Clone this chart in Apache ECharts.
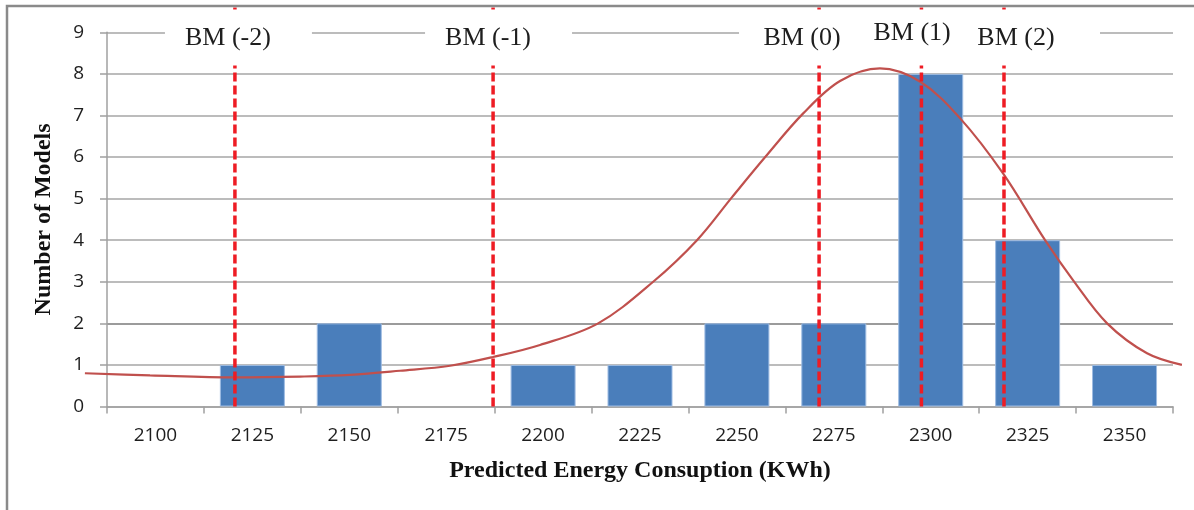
<!DOCTYPE html>
<html>
<head>
<meta charset="utf-8">
<script src="https://cdn.jsdelivr.net/npm/echarts@6/dist/echarts.min.js"></script>
<style>
html,body{margin:0;padding:0;background:#fff;}
#chart{width:1194px;height:510px;}
</style>
</head>
<body>
<div id="chart"></div>
<script>
// ---- data ----
const categories = ['2100','2125','2150','2175','2200','2225','2250','2275','2300','2325','2350'];
const counts     = [0, 1, 2, 0, 1, 1, 2, 2, 8, 4, 1];
const yTicks     = [0,1,2,3,4,5,6,7,8,9];

// fitted curve (x in kWh, y in number of models)
const curveX = [2081.8,2098.6,2120.5,2137.3,2150.2,2163.1,2176.0,2187.1,2199.2,2214.2,2228.4,2239.7,2248.7,2257.3,2267.1,2276.6,2286.9,2297.3,2307.6,2318.7,2329.5,2336.7,2345.5,2355.8,2364.8];
const curveY = [0.80,0.75,0.70,0.72,0.76,0.86,0.98,1.19,1.48,2.00,3.00,4.00,5.03,6.00,7.05,7.83,8.13,7.81,6.93,5.60,4.00,3.04,2.00,1.28,1.00];

// benchmark model markers
const bmNames  = ['BM (-2)','BM (-1)','BM (0)','BM (1)','BM (2)'];
const bmValues = [2120.5, 2187.1, 2271.2, 2297.6, 2318.9];
const bmLabelX = [2118.7, 2185.8, 2266.8, 2295.2, 2322.0];
const bmLabelY = [8.87, 8.87, 8.87, 8.98, 8.87];

// ---- layout ----
const W = 1194, GL = 107, GR = 21, GT = 32.3, GB = 103.5;
const catW = (W - GL - GR) / categories.length;        // px per category
const xStart = Number(categories[0]) - 12.5;           // value at the left edge of the category axis
const perPx = 25 / catW;
// wider overlay grid (so the curve can run past the plot edges like the original)
const OL = 80, OR = 8;
const ovMin = xStart - (GL - OL) * perPx;
const ovMax = xStart + (W - OR - GL) * perPx;

const chart = echarts.init(document.getElementById('chart'), null, {renderer:'canvas'});

const gridColors = yTicks.map(v => v === 2 ? '#7a7a7a' : '#a6a6a6');

const series = [
  {
    type:'bar', xAxisIndex:0, yAxisIndex:0, data:counts.map(v => v === 0 ? '-' : v), barWidth:65, z:2,
    itemStyle:{color:'#4a7ebb', borderColor:'#9dbbe2', borderWidth:1}
  },
  {
    type:'line', xAxisIndex:1, yAxisIndex:1, z:3, clip:false, smooth:0.35,
    showSymbol:false, symbol:'none', silent:true,
    data: curveX.map((x,i)=>[x, curveY[i]]),
    lineStyle:{color:'#c0504d', width:2.2}
  }
];
bmValues.forEach(v => {
  series.push({
    type:'line', xAxisIndex:1, yAxisIndex:1, z:4, clip:false,
    showSymbol:false, symbol:'none', silent:true,
    data:[[v,0],[v,9.62]],
    lineStyle:{color:'#ee1c24', width:3.5, type:[9,4]}
  });
});
series.push({
  type:'custom', xAxisIndex:1, yAxisIndex:1, z:6, silent:true, clip:false,
  data: bmLabelX.map((x,i)=>[x, bmLabelY[i]]),
  renderItem: function(params, api){
    const p = api.coord([api.value(0), api.value(1)]);
    const top = api.coord([api.value(0), 9.55])[1];
    const bottom = api.coord([api.value(0), 8.2])[1];
    return {
      type:'group',
      children:[
        {type:'rect', z2:0, shape:{x:p[0]-63, y:top, width:147, height:bottom-top}, style:{fill:'#ffffff'}},
        {type:'text', z2:10, x:p[0], y:p[1], style:{text:bmNames[params.dataIndex], fontFamily:'Liberation Serif', fontSize:26, fill:'#1e1e1e', align:'center', verticalAlign:'middle'}}
      ]
    };
  }
});

const option = {
  animation:false,
  backgroundColor:'#ffffff',
  grid:[
    {left:GL, right:GR, top:GT, bottom:GB, containLabel:false},
    {left:OL, right:OR, top:GT, bottom:GB, containLabel:false}
  ],
  graphic:[{type:'rect', silent:true, z:100, shape:{x:7, y:6, width:1300, height:700}, style:{fill:'none', stroke:'#8a8a8a', lineWidth:2.5}}],
  xAxis:[
    {
      type:'category', gridIndex:0, data:categories, boundaryGap:true,
      axisLine:{lineStyle:{color:'#a0a0a0', width:1.5}},
      axisTick:{show:true, length:7, lineStyle:{color:'#a0a0a0', width:1.5}},
      axisLabel:{fontFamily:'Open Sans', fontSize:19, color:'#1e1e1e', margin:20},
      splitLine:{show:false},
      name:'Predicted Energy Consuption (KWh)', nameLocation:'middle', nameGap:52,
      nameTextStyle:{fontFamily:'Liberation Serif', fontWeight:'bold', fontSize:24, color:'#111'}
    },
    {type:'value', gridIndex:1, min:ovMin, max:ovMax, show:false}
  ],
  yAxis:[
    {
      type:'value', gridIndex:0, min:0, max:9, interval:1,
      axisLine:{show:true, lineStyle:{color:'#a0a0a0', width:1.5}},
      axisTick:{show:true, length:7, lineStyle:{color:'#a0a0a0', width:1.5}},
      axisLabel:{fontFamily:'Open Sans', fontSize:19, color:'#1e1e1e', margin:23, formatter: v => String(v)},
      splitLine:{show:true, lineStyle:{color:gridColors, width:1.6}},
      name:'Number of Models', nameLocation:'middle', nameGap:51, nameRotate:90,
      nameTextStyle:{fontFamily:'Liberation Serif', fontWeight:'bold', fontSize:24, color:'#111'}
    },
    {type:'value', gridIndex:1, min:0, max:9, interval:1, show:false}
  ],
  series: series
};
chart.setOption(option);
</script>
</body>
</html>
